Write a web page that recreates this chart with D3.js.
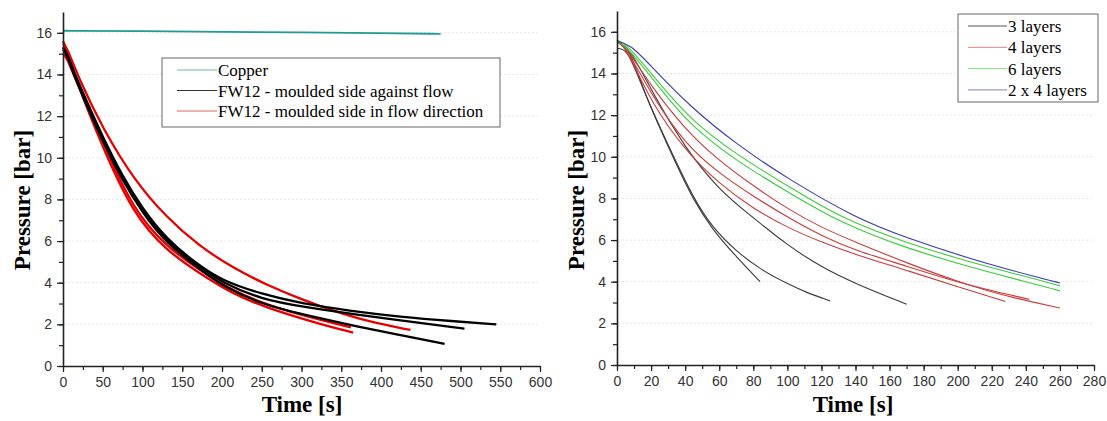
<!DOCTYPE html>
<html>
<head>
<meta charset="utf-8">
<script src="https://cdn.jsdelivr.net/npm/d3@7"></script>
<style>
  body { margin: 0; background: #fff; }
  .tick text { font-family: "Liberation Sans", Arial, sans-serif; font-size: 14px; fill: #333; }
  .axis-title { font-family: "Liberation Serif", "Times New Roman", serif; font-weight: bold; font-size: 23px; fill: #000; }
  .legend text { font-family: "Liberation Serif", "Times New Roman", serif; font-size: 17px; fill: #000; }
</style>
</head>
<body>
<div id="chart"></div>
<script>
// ---- data: [time s, pressure bar] ----
// left panel
const copper = [[0, 16.1], [100, 16.08], [200, 16.05], [300, 16.02], [400, 15.98], [475, 15.95]];
const againstFlowA = [[0, 15.3], [5, 15.0], [15, 14.0], [30, 12.7], [50, 11.0], [75, 9.1], [100, 7.55], [130, 6.1], [170, 4.85], [200, 4.1], [250, 3.45], [300, 3.0], [360, 2.65], [424, 2.36], [490, 2.15], [545, 2.0]];
const againstFlowB = [[0, 15.2], [5, 14.95], [15, 13.9], [30, 12.6], [50, 10.9], [75, 9.0], [100, 7.45], [130, 6.0], [170, 4.8], [200, 4.0], [250, 3.2], [300, 2.85], [400, 2.3], [505, 1.8]];
const againstFlowC = [[0, 15.3], [5, 15.0], [15, 13.85], [30, 12.5], [50, 10.8], [75, 8.9], [100, 7.35], [130, 5.9], [170, 4.7], [200, 3.85], [250, 2.95], [315, 2.36], [370, 1.9], [424, 1.49], [480, 1.06]];
const inFlowA = [[0, 15.5], [5, 15.3], [20, 13.8], [50, 11.4], [90, 8.9], [130, 7.15], [170, 5.8], [214, 4.7], [256, 3.9], [300, 3.2], [340, 2.65], [382, 2.15], [437, 1.73]];
const inFlowB = [[0, 15.6], [5, 15.2], [15, 13.9], [30, 12.4], [50, 10.5], [88, 7.3], [131, 5.5], [172, 4.45], [214, 3.45], [256, 2.8], [315, 2.1], [365, 1.6]];
const inFlowC = [[0, 15.0], [5, 14.8], [15, 13.8], [30, 12.6], [50, 10.75], [88, 7.5], [131, 5.7], [172, 4.6], [214, 3.6], [256, 2.95], [300, 2.45], [362, 1.85]];

// right panel
const layers3A = [[0, 15.5], [7, 15.3], [15, 13.3], [25, 11.4], [35, 9.6], [45, 7.9], [56, 6.5], [70, 5.2], [84, 4.0]];
const layers3B = [[0, 15.2], [6, 15.2], [15, 13.3], [25, 11.45], [35, 9.7], [45, 8.0], [56, 6.6], [70, 5.45], [85, 4.55], [100, 3.9], [112, 3.45], [125, 3.08]];
const layers3C = [[0, 15.5], [7, 15.3], [20, 13.2], [40, 10.4], [60, 8.4], [78, 7.2], [100, 5.75], [120, 4.7], [140, 3.9], [170, 2.92]];
const layers4A = [[0, 15.6], [5, 15.3], [20, 12.6], [40, 10.3], [60, 8.7], [80, 7.5], [100, 6.6], [120, 5.9], [140, 5.3], [170, 4.55], [200, 3.75], [228, 3.05]];
const layers4B = [[0, 15.6], [5, 15.3], [20, 13.4], [40, 11.3], [60, 9.8], [80, 8.6], [100, 7.5], [120, 6.6], [140, 5.9], [170, 4.9], [200, 4.0], [228, 3.3], [260, 2.74]];
const layers4C = [[0, 15.5], [5, 15.3], [20, 13.0], [40, 10.6], [60, 9.2], [80, 8.1], [100, 7.1], [120, 6.2], [140, 5.5], [170, 4.75], [200, 3.95], [242, 3.15]];
const layers6A = [[0, 15.6], [6, 15.4], [25, 13.5], [43, 11.8], [70, 10.1], [101, 8.56], [131, 7.07], [170, 5.85], [209, 4.9], [240, 4.25], [260, 3.8]];
const layers6B = [[0, 15.5], [6, 15.3], [25, 13.3], [43, 11.5], [70, 9.8], [101, 8.27], [131, 6.83], [170, 5.6], [209, 4.66], [240, 4.0], [260, 3.56]];
const layers2x4 = [[0, 15.55], [8, 15.4], [20, 14.35], [43, 12.4], [70, 10.6], [101, 8.9], [140, 7.06], [170, 6.1], [209, 5.05], [248, 4.18], [260, 3.94]];

const yTicks = [0, 2, 4, 6, 8, 10, 12, 14, 16];
const leftXTicks = [0, 50, 100, 150, 200, 250, 300, 350, 400, 450, 500, 550, 600];
const rightXTicks = [0, 20, 40, 60, 80, 100, 120, 140, 160, 180, 200, 220, 240, 260, 280];

const leftLegend = ['Copper', 'FW12 - moulded side against flow', 'FW12 - moulded side in flow direction'];
const rightLegend = ['3 layers', '4 layers', '6 layers', '2 x 4 layers'];

// ---- drawing ----
const width = 1107, height = 421;
const svg = d3.select('#chart').append('svg')
  .attr('width', width)
  .attr('height', height);

function drawPanel(opt) {
  const x = d3.scaleLinear().domain([0, opt.xMax]).range([opt.left, opt.right]);
  const y = d3.scaleLinear().domain([0, 17]).range([opt.bottom, opt.top]);
  const g = svg.append('g');

  // faint dotted grid
  g.selectAll('.grid')
    .data(yTicks.filter(d => d > 0))
    .join('line')
      .attr('x1', opt.left + 1)
      .attr('x2', opt.right)
      .attr('y1', d => y(d))
      .attr('y2', d => y(d))
      .attr('stroke', '#e6e6e6')
      .attr('stroke-dasharray', '2,2');

  // curves
  const line = d3.line()
    .x(d => x(d[0]))
    .y(d => y(d[1]))
    .curve(d3.curveBasis);
  g.selectAll('.curve')
    .data(opt.series)
    .join('path')
      .attr('fill', 'none')
      .attr('stroke', d => d.color)
      .attr('stroke-width', d => d.width)
      .attr('stroke-linejoin', 'round')
      .attr('d', d => line(d.values));

  // axes: minor ticks first, then major
  const minorX = d3.range(0, opt.xMax + 0.01, opt.xStep / 2);
  const minorY = d3.range(0, 17, 1);
  g.append('g')
    .attr('transform', `translate(0,${opt.bottom})`)
    .call(d3.axisBottom(x).tickValues(minorX).tickSize(4).tickFormat(''))
    .call(a => a.select('.domain').remove());
  g.append('g')
    .attr('transform', `translate(${opt.left},0)`)
    .call(d3.axisLeft(y).tickValues(minorY).tickSize(4).tickFormat(''))
    .call(a => a.select('.domain').remove());

  const xAxis = g.append('g')
    .attr('transform', `translate(0,${opt.bottom})`)
    .call(d3.axisBottom(x).tickValues(opt.xTicks).tickSize(6).tickSizeOuter(0).tickPadding(5));
  const yAxis = g.append('g')
    .attr('transform', `translate(${opt.left},0)`)
    .call(d3.axisLeft(y).tickValues(yTicks).tickSize(6).tickSizeOuter(0).tickPadding(5));
  [xAxis, yAxis].forEach(a => {
    a.select('.domain').attr('stroke', '#222').attr('stroke-width', 1.6);
  });
  g.selectAll('.tick line').attr('stroke', '#222').attr('stroke-width', 1.2);

  // axis titles
  g.append('text')
    .attr('class', 'axis-title')
    .attr('text-anchor', 'middle')
    .attr('x', opt.timeX)
    .attr('y', 412)
    .text('Time [s]');
  g.append('text')
    .attr('class', 'axis-title')
    .attr('text-anchor', 'middle')
    .attr('transform', `translate(${opt.pressX},200) rotate(-90)`)
    .text('Pressure [bar]');

  // legend
  const lg = g.append('g').attr('class', 'legend');
  const L = opt.legend;
  lg.append('rect')
    .attr('x', L.x).attr('y', L.y)
    .attr('width', L.w).attr('height', L.h)
    .attr('fill', '#fff')
    .attr('stroke', '#666')
    .attr('stroke-width', 1);
  const rows = lg.selectAll('.row')
    .data(L.labels)
    .join('g')
      .attr('transform', (d, i) => `translate(0,${L.firstRow + i * L.rowGap})`);
  rows.append('line')
    .attr('x1', L.lineX1).attr('x2', L.lineX2)
    .attr('y1', 0).attr('y2', 0)
    .attr('stroke', (d, i) => L.colors[i])
    .attr('stroke-width', 1);
  rows.append('text')
    .attr('x', L.lineX2 + 1)
    .attr('y', 6)
    .text(d => d);
}

const teal = '#1f9a96', black = '#000', red = '#e60000';
drawPanel({
  left: 63, right: 540, top: 12, bottom: 366, xMax: 600, xStep: 50,
  xTicks: leftXTicks, timeX: 302, pressX: 30,
  series: [
    { values: copper, color: teal, width: 1.8 },
    { values: inFlowA, color: red, width: 2.3 },
    { values: inFlowB, color: red, width: 2.3 },
    { values: inFlowC, color: red, width: 2.3 },
    { values: againstFlowA, color: black, width: 2.3 },
    { values: againstFlowB, color: black, width: 2.3 },
    { values: againstFlowC, color: black, width: 2.3 }
  ],
  legend: {
    x: 162, y: 58, w: 338, h: 69, firstRow: 70, rowGap: 20.5,
    lineX1: 177, lineX2: 217, labels: leftLegend,
    colors: ['#6bb8b6', '#333', '#e06060']
  }
});

const k3 = '#3a3a3a', r4 = '#cc3a3a', g6 = '#3ccc3c', b24 = '#3a3ab4';
drawPanel({
  left: 617, right: 1094, top: 11, bottom: 365, xMax: 280, xStep: 20,
  xTicks: rightXTicks, timeX: 853, pressX: 584,
  series: [
    { values: layers3A, color: k3, width: 1.1 },
    { values: layers3B, color: k3, width: 1.1 },
    { values: layers3C, color: k3, width: 1.1 },
    { values: layers4A, color: r4, width: 1.1 },
    { values: layers4B, color: r4, width: 1.1 },
    { values: layers4C, color: r4, width: 1.1 },
    { values: layers6A, color: g6, width: 1.1 },
    { values: layers6B, color: g6, width: 1.1 },
    { values: layers2x4, color: b24, width: 1.1 }
  ],
  legend: {
    x: 958, y: 14, w: 140, h: 88, firstRow: 26, rowGap: 21.3,
    lineX1: 968, lineX2: 1007, labels: rightLegend,
    colors: ['#555', '#e08080', '#80e080', '#8080d0']
  }
});
</script>
</body>
</html>
